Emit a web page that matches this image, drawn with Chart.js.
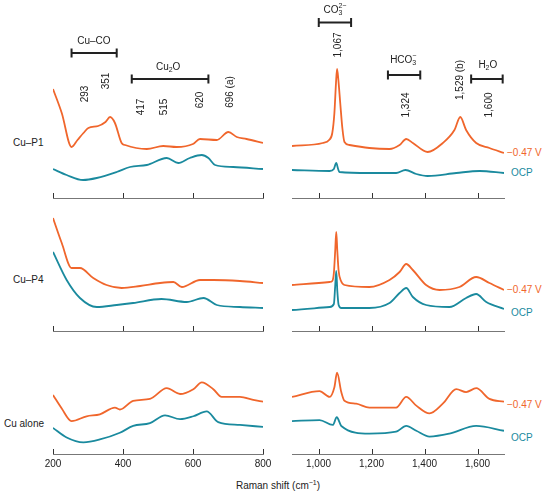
<!DOCTYPE html>
<html><head><meta charset="utf-8">
<script src="https://cdn.jsdelivr.net/npm/chart.js@4.4.0/dist/chart.umd.min.js"></script>
<style>
html,body{margin:0;padding:0;background:#fff;}
#wrap{position:relative;width:554px;height:497px;overflow:hidden;font-family:"Liberation Sans",Arial,sans-serif;}
#wrap canvas{position:absolute;}
.lbl{position:absolute;font-size:10px;color:#222;white-space:nowrap;line-height:12px;}
.or{color:#f0662c;} .te{color:#1a8a9e;}
sup{font-size:7px;line-height:0;vertical-align:4px;}
</style></head><body><div id="wrap">
<div class="lbl" style="left:13px;top:137px">Cu–P1</div>
<div class="lbl" style="left:13px;top:274px">Cu–P4</div>
<div class="lbl" style="left:4px;top:418px">Cu alone</div>
<div class="lbl or" style="left:507px;top:147px">−0.47 V</div>
<div class="lbl te" style="left:511px;top:167px">OCP</div>
<div class="lbl or" style="left:507px;top:284px">−0.47 V</div>
<div class="lbl te" style="left:511px;top:307px">OCP</div>
<div class="lbl or" style="left:507px;top:399px">−0.47 V</div>
<div class="lbl te" style="left:511px;top:432px">OCP</div>
<div class="lbl" style="left:178px;top:480px;width:200px;text-align:center">Raman shift (cm<sup>−1</sup>)</div>
</div>
<script>
// ---------- tick values ----------
const ticksLeft = [200, 400, 600, 800];
const ticksRight = [1000, 1200, 1400, 1600];

// ---------- Cu–P1 ----------
const p1L_ox = [200,225,253,270,287,301,329,350,363,377,396,406,468,515,553,600,620,668,701,725,753,800];
const p1L_oy = [109,85,51,58,65,70,72,76,81,75,55,53,49,52,51,54,59,58,66,61,59,55];
const p1L_tx = [200,239,286,325,382,420,468,525,558,591,625,644,663,715,800];
const p1L_ty = [29,23,18,20,26,31,33,40,35,40,43,40,33,31,29];
const p1R_ox = [900,1016,1040,1052,1060,1066,1070,1075,1082,1090,1098,1117,1192,1268,1306,1331,1356,1412,1469,1513,1535,1557,1595,1645,1700];
const p1R_oy = [52,55,58,65,85,115,129,118,95,70,56,53,50,49,53,59,55,46,55,68,81,68,55,50,45];
const p1R_tx = [900,1042,1058,1067,1074,1079,1192,1293,1328,1369,1412,1520,1608,1700];
const p1R_ty = [28,27,29,35,29,26,25,25,28,24,22,25,27,25];

// ---------- Cu–P4 ----------
const p4L_ox = [200,225,253,277,315,353,396,449,506,544,568,620,658,734,800];
const p4L_oy = [113,88,63,63,53,46,43,45,48,49,44,51,51,50,48];
const p4L_tx = [200,239,277,325,382,429,510,582,630,668,734,800];
const p4L_ty = [79,51,33,24,26,28,32,29,33,26,24,23];
const p4R_ox = [900,1042,1052,1058,1063,1067,1071,1076,1085,1098,1192,1268,1306,1331,1356,1406,1457,1532,1595,1645,1700];
const p4R_oy = [46,49,50,58,80,99,80,60,50,46,44,51,59,67,61,46,41,44,54,48,41];
const p4R_tx = [900,1042,1058,1063,1067,1071,1076,1086,1192,1268,1306,1331,1356,1406,1494,1557,1595,1633,1700];
const p4R_ty = [21,24,27,45,60,40,26,23,23,28,38,43,34,26,24,33,37,29,22];

// ---------- Cu alone ----------
const cuL_ox = [200,225,253,296,334,377,391,429,477,525,563,601,625,658,682,734,772,800];
const cuL_oy = [61,47,34,39,41,48,46,55,57,68,62,67,74,67,59,59,56,54];
const cuL_tx = [200,239,287,334,391,429,477,520,563,601,639,672,734,800];
const cuL_ty = [27,17,12,15,22,29,32,40,36,39,44,33,30,28];
const cuR_ox = [900,1004,1042,1060,1070,1086,1098,1142,1192,1293,1331,1369,1419,1469,1520,1557,1595,1645,1700];
const cuR_oy = [59,65,59,69,84,64,55,52,48,48,59,50,42,52,67,64,68,57,54];
const cuR_tx = [900,1004,1054,1069,1086,1192,1293,1331,1369,1419,1494,1595,1700];
const cuR_ty = [34,35,30,38,29,21,23,29,24,18,21,29,24];

// ---------- peak labels ----------
const peakLabelsLeft = ['293','351','417','515','620','696 (a)'];
const peakLabelsRight = ['1,067','1,324','1,529 (b)','1,600'];

// ---------- style / layout ----------
const ORANGE = '#f0662c', TEAL = '#1a8a9e', INK = '#222';
const FONT = '"Liberation Sans", Arial, sans-serif';
Chart.defaults.font.family = FONT;
Chart.defaults.font.size = 10;
Chart.defaults.color = INK;

const cols = {
  L: {left: 30, width: 256, pad: 23, min: 200, max: 800, ticks: ticksLeft},
  R: {left: 269, width: 258, pad: 23, min: 900, max: 1700, ticks: ticksRight}
};
const rows = [
  {top: 0, area: 198, labels: false},
  {top: 200, area: 131, labels: false},
  {top: 334, area: 124, labels: true}
];

function zip(xs, ys) { return xs.map((x, i) => ({x, y: ys[i]})); }

function drawRich(ctx, parts, cx, cy, size) {
  const small = size * 0.7;
  const items = []; let w = 0;
  parts.forEach(p => {
    if (p.n !== undefined) {
      ctx.font = size + 'px ' + FONT;
      const ww = ctx.measureText(p.n).width; items.push({t: p.n, w: ww}); w += ww;
    } else {
      ctx.font = small + 'px ' + FONT;
      const ww = Math.max(p.sub ? ctx.measureText(p.sub).width : 0, p.sup ? ctx.measureText(p.sup).width : 0);
      items.push({sub: p.sub, sup: p.sup, w: ww}); w += ww;
    }
  });
  let x = cx - w / 2;
  ctx.textAlign = 'left'; ctx.textBaseline = 'middle';
  items.forEach(it => {
    if (it.t !== undefined) { ctx.font = size + 'px ' + FONT; ctx.fillText(it.t, x, cy); }
    else {
      ctx.font = small + 'px ' + FONT;
      if (it.sub) ctx.fillText(it.sub, x, cy + size * 0.35);
      if (it.sup) ctx.fillText(it.sup, x, cy - size * 0.42);
    }
    x += it.w;
  });
}

const upTicks = {
  id: 'upTicks',
  afterDraw(chart) {
    const s = chart.scales.x, ctx = chart.ctx;
    ctx.save(); ctx.strokeStyle = '#333'; ctx.lineWidth = 1;
    s.ticks.forEach(t => {
      const x = Math.round(s.getPixelForValue(t.value)) + 0.5;
      ctx.beginPath(); ctx.moveTo(x, s.top); ctx.lineTo(x, s.top - 5); ctx.stroke();
    });
    ctx.restore();
  }
};

const annot = {
  id: 'annot',
  afterDatasetsDraw(chart, args, opts) {
    if (!opts || !opts.brackets) return;
    const xs = chart.scales.x, ys = chart.scales.y, ctx = chart.ctx;
    ctx.save();
    ctx.fillStyle = INK; ctx.strokeStyle = INK;
    opts.brackets.forEach(b => {
      const x1 = xs.getPixelForValue(b.x1), x2 = xs.getPixelForValue(b.x2), y = ys.getPixelForValue(b.y);
      ctx.lineWidth = 2;
      ctx.beginPath();
      ctx.moveTo(x1, y); ctx.lineTo(x2, y);
      ctx.moveTo(x1, y - 4.5); ctx.lineTo(x1, y + 4.5);
      ctx.moveTo(x2, y - 4.5); ctx.lineTo(x2, y + 4.5);
      ctx.stroke();
      drawRich(ctx, b.label, xs.getPixelForValue(b.lx), ys.getPixelForValue(b.ly), 10);
    });
    ctx.font = '10px ' + FONT;
    ctx.textAlign = 'center'; ctx.textBaseline = 'middle';
    opts.peaks.forEach(p => {
      ctx.save();
      ctx.translate(xs.getPixelForValue(p.x), ys.getPixelForValue(p.y));
      ctx.rotate(-Math.PI / 2);
      ctx.fillText(p.t, 0, 0);
      ctx.restore();
    });
    ctx.restore();
  }
};

const annLeft = {
  brackets: [
    {x1: 253, x2: 382, y: 145, lx: 317, ly: 157, label: [{n: 'Cu–CO'}]},
    {x1: 425, x2: 644, y: 119, lx: 529, ly: 131, label: [{n: 'Cu'}, {sub: '2'}, {n: 'O'}]}
  ],
  peaks: [[291, 104], [351, 117], [453, 91], [517, 91], [620, 98], [706, 106]]
    .map((p, i) => ({x: p[0], y: p[1], t: peakLabelsLeft[i]}))
};
const annRight = {
  brackets: [
    {x1: 1001, x2: 1123, y: 175.5, lx: 1062, ly: 188, label: [{n: 'CO'}, {sub: '3', sup: '2−'}]},
    {x1: 1262, x2: 1384, y: 123, lx: 1320, ly: 138, label: [{n: 'HCO'}, {sub: '3', sup: '−'}]},
    {x1: 1576, x2: 1695, y: 119, lx: 1639, ly: 133, label: [{n: 'H'}, {sub: '2'}, {n: 'O'}]}
  ],
  peaks: [[1073, 153], [1333, 93], [1535, 118], [1645, 93]]
    .map((p, i) => ({x: p[0], y: p[1], t: peakLabelsRight[i]}))
};

const panels = [
  {row: 0, col: 'L', o: zip(p1L_ox, p1L_oy), t: zip(p1L_tx, p1L_ty), ann: annLeft},
  {row: 0, col: 'R', o: zip(p1R_ox, p1R_oy), t: zip(p1R_tx, p1R_ty), ann: annRight},
  {row: 1, col: 'L', o: zip(p4L_ox, p4L_oy), t: zip(p4L_tx, p4L_ty)},
  {row: 1, col: 'R', o: zip(p4R_ox, p4R_oy), t: zip(p4R_tx, p4R_ty)},
  {row: 2, col: 'L', o: zip(cuL_ox, cuL_oy), t: zip(cuL_tx, cuL_ty)},
  {row: 2, col: 'R', o: zip(cuR_ox, cuR_oy), t: zip(cuR_tx, cuR_ty)}
];

const wrap = document.getElementById('wrap');
panels.forEach(p => {
  const r = rows[p.row], c = cols[p.col];
  const axisH = r.labels ? 16 : 0;
  const H = r.area + axisH + 3;
  const cv = document.createElement('canvas');
  cv.width = c.width; cv.height = H;
  cv.style.left = c.left + 'px'; cv.style.top = r.top + 'px';
  cv.style.width = c.width + 'px'; cv.style.height = H + 'px';
  wrap.appendChild(cv);
  new Chart(cv, {
    type: 'line',
    data: {datasets: [
      {data: p.o, borderColor: ORANGE, borderWidth: 1.8, pointRadius: 0, cubicInterpolationMode: 'monotone', fill: false},
      {data: p.t, borderColor: TEAL, borderWidth: 1.8, pointRadius: 0, cubicInterpolationMode: 'monotone', fill: false}
    ]},
    options: {
      responsive: false, animation: false, devicePixelRatio: 1,
      layout: {padding: {left: c.pad, right: c.pad, top: 0, bottom: 3}},
      plugins: {legend: {display: false}, tooltip: {enabled: false}, annot: p.ann || {}},
      scales: {
        x: {
          type: 'linear', min: c.min, max: c.max,
          afterBuildTicks: s => { s.ticks = c.ticks.map(v => ({value: v})); },
          grid: {display: true, drawOnChartArea: false, drawTicks: false},
          border: {display: true, color: '#777', width: 1},
          ticks: {display: r.labels, padding: 4, color: INK, font: {size: 10},
            callback: v => v.toLocaleString('en-US')}
        },
        y: {display: false, min: 0, max: r.area}
      }
    },
    plugins: [upTicks, annot]
  });
});
</script>
</body></html>
